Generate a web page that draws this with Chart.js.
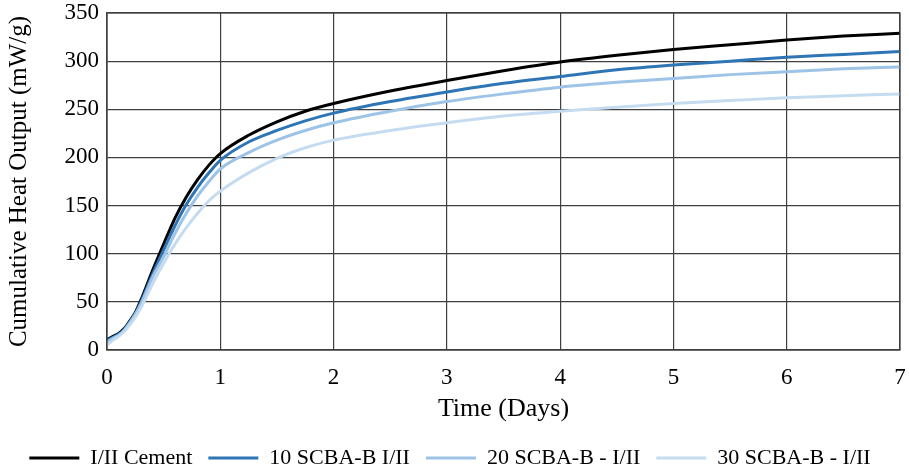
<!DOCTYPE html>
<html>
<head>
<meta charset="utf-8">
<script src="https://cdn.jsdelivr.net/npm/chart.js@4/dist/chart.umd.min.js"></script>
<style>
html,body{margin:0;padding:0;background:#fff;}
#wrap{width:909px;height:470px;position:relative;}
</style>
</head>
<body>
<div id="wrap"><canvas id="c" width="909" height="470"></canvas></div>
<script>
const timeDays = [0, 0.05, 0.1, 0.15, 0.2, 0.25, 0.3, 0.4, 0.5, 0.6, 0.7, 0.8, 0.9, 1.0, 1.25, 1.5, 1.75, 2, 2.5, 3, 3.5, 4, 4.5, 5, 5.5, 6, 6.5, 7];
const cement   = [11, 14, 17, 22, 30, 39, 52, 82, 110, 137, 159, 177, 192, 204, 223, 237, 248, 256, 269, 280, 290, 299, 306, 312, 317, 322, 326, 329];
const scba10   = [10, 13, 16, 21, 29, 38, 50, 78, 104, 129, 151, 169, 184, 197, 216, 228, 238, 246, 258, 268, 277, 284, 291, 296, 300, 304, 307, 310];
const scba20   = [8, 12, 15, 20, 28, 37, 48, 75, 97, 121, 142, 160, 175, 188, 205, 218, 228, 236, 248, 258, 266, 273, 278, 282, 286, 289, 292, 294];
const scba30   = [5, 10, 14, 19, 26, 34, 44, 68, 90, 110, 127, 142, 155, 165, 184, 199, 210, 218, 228, 236, 243, 248, 252, 256, 259, 262, 264, 266];
const seriesNames = ["I/II Cement", "10 SCBA-B I/II", "20 SCBA-B - I/II", "30 SCBA-B - I/II"];
const seriesColors = ["#000000", "#2E75B6", "#9DC3E6", "#C5DCF0"];
const xTicks = [0, 1, 2, 3, 4, 5, 6, 7];
const yTicks = [0, 50, 100, 150, 200, 250, 300, 350];

const allSeries = [cement, scba10, scba20, scba30];
const datasets = allSeries.map((vals, i) => ({
  label: seriesNames[i],
  data: timeDays.map((t, j) => ({x: t, y: vals[j]})),
  borderColor: seriesColors[i],
  backgroundColor: seriesColors[i],
  borderWidth: 3,
  pointRadius: 0,
  cubicInterpolationMode: 'monotone',
  fill: false
})).reverse();

const serif = "'Liberation Serif', 'Times New Roman', serif";

new Chart(document.getElementById('c'), {
  type: 'line',
  data: { datasets },
  options: {
    responsive: false,
    animation: false,
    layout: { padding: { top: 13, right: 9, left: 0, bottom: -9 } },
    plugins: {
      legend: {
        position: 'bottom',
        reverse: true,
        labels: {
          font: { family: serif, size: 22 },
          color: '#000',
          boxWidth: 50,
          boxHeight: 3,
          padding: 16,
          generateLabels(chart) {
            const items = Chart.defaults.plugins.legend.labels.generateLabels(chart);
            items.forEach(it => { it.lineWidth = 0; it.strokeStyle = it.fillStyle; });
            return items;
          }
        }
      },
      tooltip: { enabled: false }
    },
    scales: {
      x: {
        type: 'linear',
        min: 0, max: 7,
        afterBuildTicks(scale) { scale.ticks = xTicks.map(v => ({value: v})); },
        afterFit(scale) { scale.height = 81; scale.paddingLeft = 0; scale.paddingRight = 0; },
        ticks: { font: { family: serif, size: 23 }, color: '#000', padding: 14 },
        grid: { color: '#404040', lineWidth: 1.2, drawTicks: false },
        border: { color: '#404040', width: 1.2 },
        title: { display: true, text: 'Time (Days)', font: { family: serif, size: 26 }, color: '#000', padding: { top: 4, bottom: 6 } }
      },
      y: {
        min: 0, max: 350,
        afterBuildTicks(scale) { scale.ticks = yTicks.map(v => ({value: v})); },
        afterFit(scale) { scale.width = 107; scale.paddingTop = 0; scale.paddingBottom = 0; },
        ticks: { font: { family: serif, size: 23 }, color: '#000', padding: 8 },
        grid: { color: '#404040', lineWidth: 1.2, drawTicks: false },
        border: { color: '#404040', width: 1.2 },
        title: { display: true, text: 'Cumulative Heat Output (mW/g)', font: { family: serif, size: 25 }, color: '#000', padding: { bottom: 6 } }
      }
    }
  },
  plugins: [{
    id: 'frame',
    afterDraw(chart) {
      const {ctx, chartArea: a} = chart;
      ctx.save();
      ctx.strokeStyle = '#404040';
      ctx.lineWidth = 1.2;
      ctx.strokeRect(a.left, a.top, a.right - a.left, a.bottom - a.top);
      ctx.restore();
    }
  }]
});
</script>
</body>
</html>
